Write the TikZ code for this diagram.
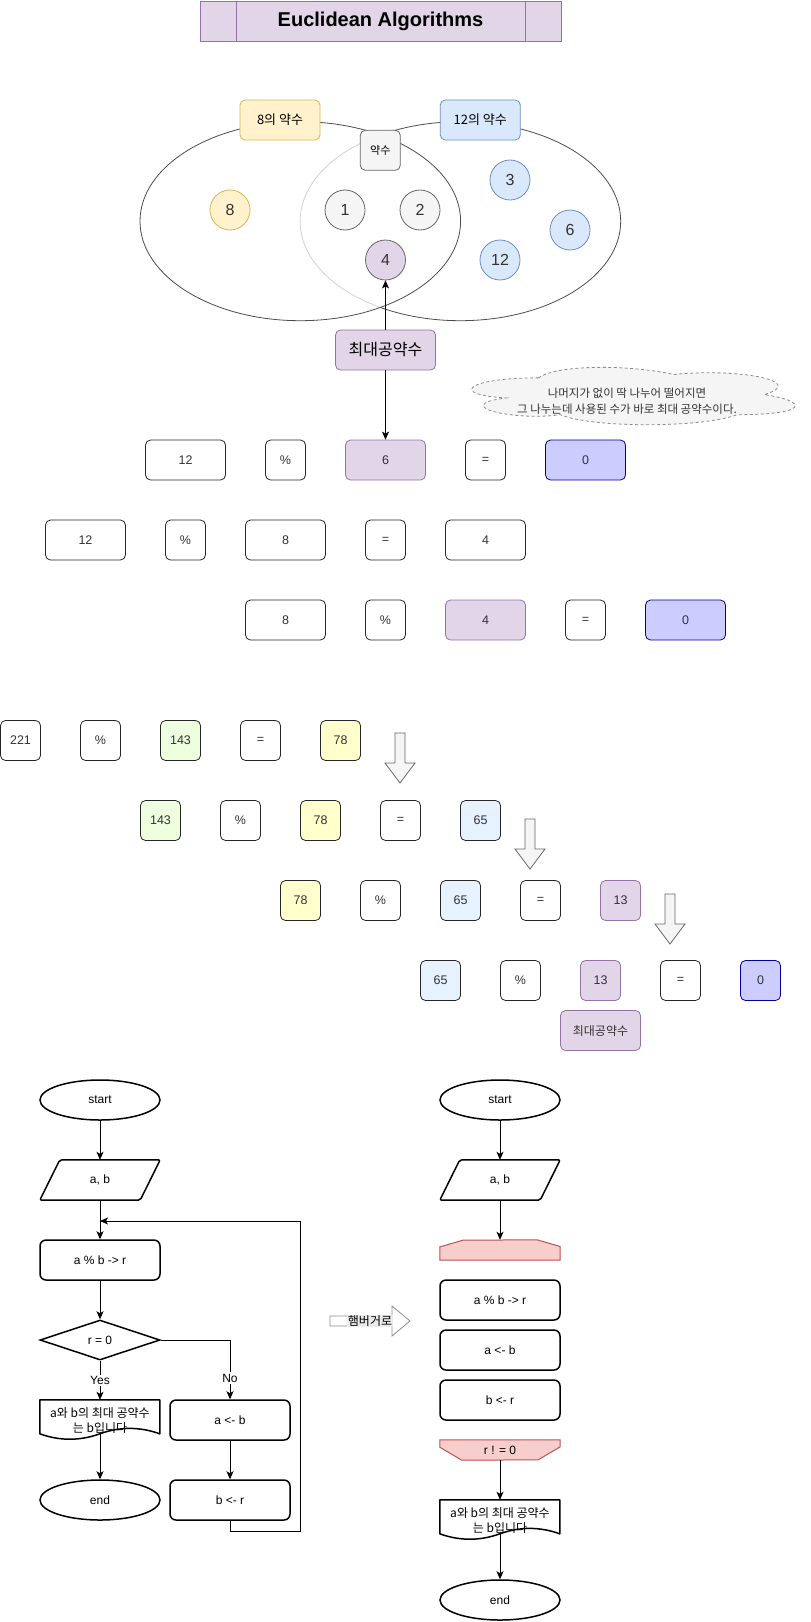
\documentclass[tikz,border=0pt]{standalone}
\usepackage{fontspec}
\setmainfont{Liberation Sans}
\newfontfamily\kr{Noto Sans CJK KR}
\usepackage{tikz}
\usetikzlibrary{arrows.meta, calc, positioning, shapes.geometric}

\definecolor{purpleF}{HTML}{E1D5E7}
\definecolor{purpleD}{HTML}{9673A6}
\definecolor{yellowF}{HTML}{FFF2CC}
\definecolor{yellowD}{HTML}{D6B656}
\definecolor{blueF}{HTML}{DAE8FC}
\definecolor{blueD}{HTML}{6C8EBF}
\definecolor{grayF}{HTML}{F5F5F5}
\definecolor{grayD}{HTML}{666666}
\definecolor{zeroF}{HTML}{CCCCFF}
\definecolor{zeroD}{HTML}{000099}
\definecolor{greenF}{HTML}{EEFFE0}
\definecolor{lemonF}{HTML}{FFFFCC}
\definecolor{skyF}{HTML}{E6F2FF}
\definecolor{redF}{HTML}{F8CECC}
\definecolor{redD}{HTML}{B85450}

\begin{document}
\begin{tikzpicture}[x=1pt, y=-1pt, arro/.style = {-{Stealth[length=8pt, width=7pt, inset=2pt]}, line width=0.9pt}]

\tikzstyle{ttlbox} = [draw=purpleD, fill=purpleF, minimum width=361pt, minimum height=40pt, font={\fontsize{20}{24}\selectfont\bfseries}]
\tikzstyle{setell} = [draw=black!70, ellipse, minimum width=320.6pt, minimum height=199pt, line width=0.8pt]
\tikzstyle{setlbl} = [draw, rounded corners=5pt, minimum width=80pt, minimum height=40pt, line width=0.8pt, font={\kr\fontsize{13}{15}\selectfont}]
\tikzstyle{circ} = [draw, circle, minimum size=40pt, inner sep=0pt, line width=0.8pt, text=black!80, font={\fontsize{16}{18}\selectfont}]
\tikzstyle{gcdbox} = [draw=purpleD, fill=purpleF, rounded corners=5pt, minimum width=100pt, minimum height=40pt, line width=0.8pt, font={\kr\fontsize{16}{18}\selectfont}]
\tikzstyle{notebox} = [minimum width=361pt, minimum height=67pt, inner sep=0pt]
\tikzstyle{cloudline} = [draw=black!45, dash pattern=on 3pt off 2.5pt, fill=grayF, line width=0.8pt]
\tikzstyle{notetext} = [align=center, text=black!80, font={\kr\fontsize{11.5}{16}\selectfont}]
\tikzstyle{numbox} = [draw=black!85, fill=white, rounded corners=5pt, minimum width=80pt, minimum height=40pt, line width=0.8pt, text=black!80, font={\fontsize{12.5}{15}\selectfont}]
\tikzstyle{opbox} = [numbox, minimum width=40pt]
\tikzstyle{blkarr} = [draw=grayD, fill=grayF, line width=0.8pt]
\tikzstyle{termnode} = [draw, ellipse, line width=1.5pt, minimum width=120pt, minimum height=40pt, inner sep=0pt, font={\fontsize{12}{14}\selectfont}]
\tikzstyle{iobox} = [minimum width=120pt, minimum height=40pt, inner sep=0pt, font={\fontsize{12}{14}\selectfont}]
\tikzstyle{ioline} = [line width=1.5pt, rounded corners=2pt]
\tikzstyle{procbox} = [draw, rounded corners=6pt, line width=1.5pt, minimum width=120pt, minimum height=40pt, font={\fontsize{12}{14}\selectfont}]
\tikzstyle{decbox} = [draw, diamond, aspect=3, line width=1.5pt, minimum width=120pt, minimum height=40pt, inner sep=0pt, font={\fontsize{12}{14}\selectfont}]
\tikzstyle{docbox} = [minimum width=120pt, minimum height=40pt, inner sep=0pt, align=center, font={\kr\fontsize{12}{15}\selectfont}]
\tikzstyle{limbox} = [minimum width=120pt, minimum height=20pt, inner sep=0pt, font={\fontsize{12}{14}\selectfont}]
\tikzstyle{limline} = [draw=redD, fill=redF, line width=1pt]
\tikzstyle{ynlbl} = [fill=white, inner sep=1.5pt, font={\fontsize{12}{14}\selectfont}]

\useasboundingbox (0,0) rectangle (811,1622);

% title
\node[ttlbox] (ttl) at (380.5,21) {Euclidean Algorithms};
\draw[purpleD] ([xshift=36pt]ttl.north west) -- ([xshift=36pt]ttl.south west);
\draw[purpleD] ([xshift=-36pt]ttl.north east) -- ([xshift=-36pt]ttl.south east);

% sets
\node[setell] (setB) at (460.4,221.2) {};
\node[setell, fill=white, fill opacity=0.75] (setA) at (300.3,221.2) {};
\node[setlbl, draw=yellowD, fill=yellowF] (labA) at (280,120) {8의 약수};
\node[setlbl, draw=blueD, fill=blueF] (labB) at (480.3,120) {12의 약수};
\node[setlbl, draw=grayD, fill=grayF, minimum width=40pt, font={\kr\fontsize{11}{13}\selectfont}] (labC) at (380.3,150.3) {약수};
% members
\node[circ, draw=yellowD, fill=yellowF] (n8) at (230,210) {8};
\node[circ, draw=grayD, fill=grayF] (n1) at (345,210) {1};
\node[circ, draw=grayD, fill=grayF] (n2) at (420,210) {2};
\node[circ, draw=grayD, fill=purpleF] (n4) at (385.5,260) {4};
\node[circ, draw=blueD, fill=blueF] (n3) at (510,180) {3};
\node[circ, draw=blueD, fill=blueF] (n6) at (570,230) {6};
\node[circ, draw=blueD, fill=blueF] (n12) at (500,260) {12};
% gcd
\node[gcdbox] (gcd) at (385.5,350) {최대공약수};
% note
\node[notebox] (note) at (629,394.8) {};
\begin{scope}[shift={(note.north west)}, x=361pt, y=-67pt]
\filldraw[cloudline] (0.25,0.25) .. controls (0.05,0.25) and (0,0.5) .. (0.16,0.55) .. controls (0,0.66) and (0.18,0.9) .. (0.31,0.8) .. controls (0.4,1) and (0.7,1) .. (0.8,0.8) .. controls (1,0.8) and (1,0.6) .. (0.875,0.5) .. controls (1,0.3) and (0.8,0.1) .. (0.625,0.2) .. controls (0.5,0.05) and (0.3,0.05) .. (0.25,0.25) -- cycle;
\end{scope}
\node[notetext] (notet) at (627,401.5) {나머지가 없이 딱 나누어 떨어지면\\그 나누는데 사용된 수가 바로 최대 공약수이다.};

% 12 % 6 = 0
\node[numbox] (x11) at (185.5,460) {12};
\node[opbox] (x12) at (285.5,460) {\%};
\node[numbox, draw=purpleD, fill=purpleF] (x13) at (385.5,460) {6};
\node[opbox] (x14) at (485.5,460) {=};
\node[numbox, draw=zeroD, fill=zeroF] (x15) at (585.5,460) {0};
% connections
\draw[arro] (gcd) -- (n4);
\draw[arro] (gcd) -- (x13);
% 12 % 8 = 4
\node[numbox] (x21) at (85.5,540) {12};
\node[opbox] (x22) at (185.5,540) {\%};
\node[numbox] (x23) at (285.5,540) {8};
\node[opbox] (x24) at (385.5,540) {=};
\node[numbox] (x25) at (485.5,540) {4};
% 8 % 4 = 0
\node[numbox] (x31) at (285.5,620) {8};
\node[opbox] (x32) at (385.5,620) {\%};
\node[numbox, draw=purpleD, fill=purpleF] (x33) at (485.5,620) {4};
\node[opbox] (x34) at (585.5,620) {=};
\node[numbox, draw=zeroD, fill=zeroF] (x35) at (685.5,620) {0};

% 221 % 143 = 78
\node[opbox] (y11) at (20.5,740.5) {221};
\node[opbox] (y12) at (100.5,740.5) {\%};
\node[opbox, fill=greenF] (y13) at (180.5,740.5) {143};
\node[opbox] (y14) at (260.5,740.5) {=};
\node[opbox, fill=lemonF] (y15) at (340.5,740.5) {78};
% 143 % 78 = 65
\node[opbox, fill=greenF] (y21) at (160.5,820.5) {143};
\node[opbox] (y22) at (240.5,820.5) {\%};
\node[opbox, fill=lemonF] (y23) at (320.5,820.5) {78};
\node[opbox] (y24) at (400.5,820.5) {=};
\node[opbox, fill=skyF] (y25) at (480.5,820.5) {65};
% 78 % 65 = 13
\node[opbox, fill=lemonF] (y31) at (300.5,900.5) {78};
\node[opbox] (y32) at (380.5,900.5) {\%};
\node[opbox, fill=skyF] (y33) at (460.5,900.5) {65};
\node[opbox] (y34) at (540.5,900.5) {=};
\node[opbox, draw=purpleD, fill=purpleF] (y35) at (620.5,900.5) {13};
% 65 % 13 = 0
\node[opbox, fill=skyF] (y41) at (440.5,980.5) {65};
\node[opbox] (y42) at (520.5,980.5) {\%};
\node[opbox, draw=purpleD, fill=purpleF] (y43) at (600.5,980.5) {13};
\node[opbox] (y44) at (680.5,980.5) {=};
\node[opbox, draw=zeroD, fill=zeroF] (y45) at (760.5,980.5) {0};
\node[numbox, draw=purpleD, fill=purpleF, font={\kr\fontsize{12}{14}\selectfont}] (gcd2) at (600.5,1030.5) {최대공약수};
% block arrows
\draw[blkarr] (395,733) -- ++(10,0) -- ++(0,30) -- ++(10,0) -- ++(-15,20) -- ++(-15,-20) -- ++(10,0) -- cycle;
\draw[blkarr] (525,819) -- ++(10,0) -- ++(0,30) -- ++(10,0) -- ++(-15,20) -- ++(-15,-20) -- ++(10,0) -- cycle;
\draw[blkarr] (665,894) -- ++(10,0) -- ++(0,30) -- ++(10,0) -- ++(-15,20) -- ++(-15,-20) -- ++(10,0) -- cycle;

% flowchart 1
\node[termnode] (st1) at (100,1100) {start};
\node[iobox] (in1) at (100,1180) {a, b};
\draw[ioline] (in1.south west) -- ([xshift=20pt]in1.north west) -- (in1.north east) -- ([xshift=-20pt]in1.south east) -- cycle;
\node[procbox] (op1) at (100,1260) {a \% b -> r};
\node[decbox] (dc1) at (100,1340) {r = 0};
\node[docbox] (ans1) at (100,1420) {a와 b의 최대 공약수\\는 b입니다};
\begin{scope}[shift={(ans1.north west)}]
\draw[line width=1.5pt, line join=round] (0,0) -- (120,0) -- (120,34) .. controls (100,26.8) and (80,26.8) .. (60,34) .. controls (40,41.2) and (20,41.2) .. (0,34) -- cycle;
\end{scope}
\node[termnode] (en1) at (100,1500) {end};
\node[procbox] (as1) at (230,1420) {a <- b};
\node[procbox] (bs1) at (230,1500) {b <- r};
\coordinate (back) at (300.7,1221);
\coordinate (join) at (100,1221);
% connections
\draw[arro] (st1) -- (in1);
\draw[arro] (in1) -- (op1);
\draw[arro] (op1) -- (dc1);
\draw[arro] (dc1) -- node[ynlbl] {Yes} (ans1);
\draw[arro] (dc1.east) -| node[ynlbl, pos=0.82] {No} (as1);
\draw[arro] ([yshift=6pt]ans1.south) -- (en1);
\draw[arro] (as1) -- (bs1);
\draw[arro] (bs1.south) -- ++(0,10.7) -| (back) -- (join);

% hamburger arrow
\draw[draw=black!45, fill=white, line width=0.8pt] (330,1316) -- ++(62,0) -- ++(0,-10) -- ++(18,15) -- ++(-18,15) -- ++(0,-10) -- ++(-62,0) -- cycle;
\node[fill=black!8, inner sep=1pt, font={\kr\fontsize{12}{14}\selectfont}] (hbg) at (370,1321) {햄버거로};

% flowchart 2
\node[termnode] (st2) at (500,1100) {start};
\node[iobox] (in2) at (500,1180) {a, b};
\draw[ioline] (in2.south west) -- ([xshift=20pt]in2.north west) -- (in2.north east) -- ([xshift=-20pt]in2.south east) -- cycle;
\node[limbox] (lt2) at (500,1250) {};
\filldraw[limline] (lt2.south west) -- ++(0,-13.3) -- ++(23,-6.7) -- ([xshift=-23pt]lt2.north east) -- ++(23,6.7) -- (lt2.south east) -- cycle;
\node[procbox] (op2) at (500,1300) {a \% b -> r};
\node[procbox] (as2) at (500,1350) {a <- b};
\node[procbox] (bs2) at (500,1400) {b <- r};
\node[limbox] (lb2) at (500,1450) {};
\filldraw[limline] (lb2.north west) -- (lb2.north east) -- ++(0,7) -- ++(-22,13) -- ([xshift=22pt]lb2.south west) -- ++(-22,-13) -- cycle;
\node[limbox] (lbt) at (500,1450) {r ! = 0};
\node[docbox] (ans2) at (500,1520) {a와 b의 최대 공약수\\는 b입니다};
\begin{scope}[shift={(ans2.north west)}]
\draw[line width=1.5pt, line join=round] (0,0) -- (120,0) -- (120,34) .. controls (100,26.8) and (80,26.8) .. (60,34) .. controls (40,41.2) and (20,41.2) .. (0,34) -- cycle;
\end{scope}
\node[termnode] (en2) at (500,1600) {end};
% connections
\draw[arro] (st2) -- (in2);
\draw[arro] (in2) -- (lt2);
\draw[arro] (lb2) -- (ans2);
\draw[arro] ([yshift=6pt]ans2.south) -- (en2);
\end{tikzpicture}
\end{document}
